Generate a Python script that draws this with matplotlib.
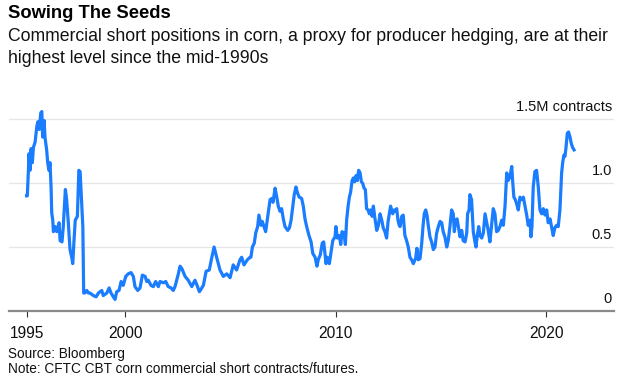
import matplotlib
matplotlib.use('Agg')
import matplotlib.pyplot as plt
import matplotlib.transforms as mtransforms

# weekly-ish readings, decimal year -> million contracts
dates = [
    1995.31, 1995.34, 1995.39, 1995.42, 1995.47, 1995.52, 1995.58, 1995.63, 1995.71, 1995.79,
    1995.84, 1995.91, 1995.98, 1996.03, 1996.07, 1996.14, 1996.18, 1996.26, 1996.31, 1996.37,
    1996.42, 1996.47, 1996.50, 1996.55, 1996.58, 1996.66, 1996.74, 1996.85, 1996.90, 1996.99,
    1997.05, 1997.15, 1997.21, 1997.29, 1997.37, 1997.45, 1997.50, 1997.56, 1997.62, 1997.72,
    1997.79, 1997.85, 1997.91, 1997.98, 1998.00, 1998.02, 1998.07, 1998.17, 1998.24, 1998.32,
    1998.48, 1998.61, 1998.72,
    1998.88, 1998.95, 1999.12, 1999.23, 1999.32, 1999.43, 1999.51, 1999.59, 1999.70, 1999.80,
    1999.90, 2000.02, 2000.14, 2000.27, 2000.38, 2000.46, 2000.59, 2000.70, 2000.81, 2000.94,
    2001.02, 2001.09, 2001.22, 2001.33, 2001.44, 2001.57, 2001.65, 2001.81, 2001.92, 2002.04,
    2002.17, 2002.28, 2002.36,
    2002.41, 2002.52, 2002.60, 2002.69, 2002.84, 2002.99, 2003.16, 2003.31, 2003.41, 2003.52,
    2003.60, 2003.71, 2003.84, 2003.99, 2004.10, 2004.22, 2004.34, 2004.50, 2004.66, 2004.82,
    2004.98, 2005.13, 2005.29, 2005.45, 2005.53, 2005.64, 2005.80, 2005.93,
    2005.97, 2006.04, 2006.13, 2006.20, 2006.29, 2006.35, 2006.45, 2006.51, 2006.61, 2006.67,
    2006.77, 2006.88, 2006.96, 2007.02, 2007.12, 2007.20, 2007.27, 2007.35, 2007.43, 2007.51,
    2007.59, 2007.72, 2007.80, 2007.88, 2007.96, 2008.03, 2008.11, 2008.19, 2008.27, 2008.38,
    2008.46, 2008.54, 2008.62, 2008.73, 2008.83, 2008.91, 2009.02, 2009.11, 2009.17, 2009.27,
    2009.36, 2009.43, 2009.49,
    2009.54, 2009.60, 2009.70, 2009.78, 2009.86, 2009.97, 2010.01, 2010.08, 2010.17, 2010.24,
    2010.30, 2010.39, 2010.46, 2010.52, 2010.59, 2010.65, 2010.71, 2010.78, 2010.84, 2010.90,
    2010.97, 2011.03, 2011.09, 2011.16, 2011.22, 2011.28, 2011.35, 2011.41, 2011.47, 2011.54,
    2011.60, 2011.66, 2011.73, 2011.79, 2011.87, 2011.95, 2012.03, 2012.11, 2012.19, 2012.26,
    2012.34, 2012.42, 2012.49, 2012.55, 2012.61, 2012.71, 2012.77, 2012.83, 2012.90, 2012.96,
    2013.02,
    2013.06, 2013.14, 2013.21, 2013.29, 2013.37, 2013.45, 2013.53, 2013.61, 2013.69, 2013.80,
    2013.86, 2013.93, 2014.01, 2014.09, 2014.15, 2014.21, 2014.28, 2014.34, 2014.40, 2014.48,
    2014.56, 2014.64, 2014.72, 2014.80, 2014.88, 2014.96, 2015.04, 2015.11, 2015.19, 2015.28,
    2015.35, 2015.43, 2015.51, 2015.59, 2015.64, 2015.70, 2015.77, 2015.83, 2015.91, 2015.99,
    2016.06, 2016.15, 2016.23, 2016.27, 2016.34, 2016.38, 2016.46, 2016.54, 2016.62,
    2016.67, 2016.73, 2016.80, 2016.86, 2016.94, 2017.02, 2017.10, 2017.18, 2017.25, 2017.33,
    2017.41, 2017.49, 2017.57, 2017.65, 2017.73, 2017.81, 2017.89, 2017.97, 2018.05, 2018.13,
    2018.20, 2018.28, 2018.37, 2018.41, 2018.47, 2018.54, 2018.60, 2018.68, 2018.76, 2018.84,
    2018.92, 2019.00, 2019.08, 2019.15, 2019.24, 2019.28, 2019.33, 2019.39, 2019.47, 2019.55,
    2019.63, 2019.71, 2019.79, 2019.87, 2019.95, 2020.03, 2020.10, 2020.19, 2020.27, 2020.34,
    2020.42, 2020.50, 2020.58, 2020.66, 2020.74, 2020.79, 2020.85, 2020.90, 2020.95, 2021.01,
    2021.07, 2021.14, 2021.20, 2021.26, 2021.33,
]
contracts = [
    0.90, 0.90, 1.09, 1.23, 1.10, 1.27, 1.16, 1.28, 1.32, 1.44,
    1.48, 1.42, 1.55, 1.56, 1.36, 1.49, 1.36, 1.26, 1.16, 1.10,
    1.16, 0.97, 0.77, 0.71, 0.62, 0.66, 0.62, 0.69, 0.55, 0.54,
    0.66, 0.95, 0.87, 0.69, 0.48, 0.42, 0.37, 0.55, 0.71, 0.74,
    1.10, 1.09, 0.89, 0.66, 0.42, 0.14, 0.14, 0.16, 0.14, 0.14,
    0.12, 0.11, 0.14,
    0.16, 0.12, 0.14, 0.18, 0.14, 0.11, 0.09, 0.15, 0.16, 0.23,
    0.20, 0.27, 0.29, 0.30, 0.27, 0.19, 0.16, 0.18, 0.28, 0.27,
    0.23, 0.24, 0.20, 0.19, 0.23, 0.19, 0.23, 0.22, 0.23, 0.19,
    0.18, 0.16, 0.19,
    0.22, 0.29, 0.35, 0.33, 0.27, 0.24, 0.19, 0.24, 0.20, 0.15,
    0.17, 0.20, 0.31, 0.32, 0.41, 0.50, 0.42, 0.32, 0.27, 0.29,
    0.26, 0.36, 0.32, 0.40, 0.42, 0.36, 0.40, 0.42,
    0.42, 0.50, 0.53, 0.61, 0.66, 0.75, 0.67, 0.70, 0.65, 0.62,
    0.74, 0.87, 0.88, 0.85, 0.96, 0.89, 0.82, 0.78, 0.80, 0.72,
    0.66, 0.63, 0.65, 0.71, 0.82, 0.91, 0.97, 0.92, 0.89, 0.88,
    0.82, 0.72, 0.66, 0.59, 0.54, 0.45, 0.42, 0.35, 0.40, 0.44,
    0.53, 0.54, 0.45,
    0.37, 0.42, 0.37, 0.46, 0.55, 0.58, 0.66, 0.57, 0.59, 0.52,
    0.62, 0.61, 0.52, 0.71, 0.82, 0.89, 0.93, 1.02, 1.04, 1.01,
    1.06, 1.02, 1.10, 1.08, 1.01, 1.00, 0.96, 0.95, 0.80, 0.79,
    0.76, 0.79, 0.74, 0.82, 0.72, 0.63, 0.67, 0.76, 0.71, 0.65,
    0.62, 0.57, 0.70, 0.76, 0.82, 0.76, 0.79, 0.78, 0.80, 0.71,
    0.67,
    0.66, 0.74, 0.75, 0.59, 0.55, 0.50, 0.42, 0.40, 0.37, 0.41,
    0.49, 0.40, 0.41, 0.53, 0.66, 0.76, 0.79, 0.75, 0.67, 0.58,
    0.54, 0.48, 0.50, 0.61, 0.66, 0.70, 0.69, 0.62, 0.58, 0.50,
    0.55, 0.66, 0.79, 0.76, 0.62, 0.71, 0.72, 0.66, 0.58, 0.63,
    0.55, 0.54, 0.61, 0.76, 0.79, 0.91, 0.87, 0.62, 0.54,
    0.50, 0.59, 0.66, 0.59, 0.57, 0.61, 0.76, 0.69, 0.63, 0.54,
    0.67, 0.80, 0.76, 0.62, 0.63, 0.66, 0.71, 0.67, 0.82, 1.08,
    1.02, 1.05, 1.13, 1.02, 0.89, 0.87, 0.84, 0.79, 0.89, 0.87,
    0.89, 0.82, 0.75, 0.67, 0.71, 0.58, 0.66, 0.97, 1.09, 1.10,
    0.97, 0.79, 0.76, 0.80, 0.75, 0.79, 0.69, 0.72, 0.65, 0.59,
    0.65, 0.67, 0.66, 0.79, 1.08, 1.16, 1.22, 1.21, 1.28, 1.39,
    1.40, 1.36, 1.31, 1.28, 1.26,
]

xtick_pos = [1995.31, 2000, 2010, 2020]
xtick_labels = ['1995', '2000', '2010', '2020']
ytick_pos = [0, 0.5, 1.0, 1.5]
ytick_labels = ['0', '0.5', '1.0', '1.5M contracts']

plt.rcParams['font.family'] = ['Liberation Sans', 'DejaVu Sans']

W, H = 623, 382
fig = plt.figure(figsize=(W / 100, H / 100), dpi=100)
ax = fig.add_axes([9 / W, (H - 310.9) / H, 605 / W, 207 / H])

ax.plot(dates, contracts, color='#1a7cff', lw=2.3, solid_joinstyle='round', zorder=3)
ax.set_xlim(1994.47, 2023.23)
ax.set_ylim(0, 1.62)

# gridlines and right-side labels sitting just above them
trans = mtransforms.blended_transform_factory(ax.transAxes, ax.transData)
for y, lab in zip(ytick_pos, ytick_labels):
    if y > 0:
        ax.axhline(y, color='#e6e6e6', lw=0.9, zorder=1)
    ax.text(0.9965, y + 0.065, lab, transform=trans, ha='right', va='baseline',
            fontsize=10.5, color='#111111')

ax.set_yticks([])
for s in ['top', 'right', 'left']:
    ax.spines[s].set_visible(False)
ax.spines['bottom'].set_color('#8a8a8a')
ax.spines['bottom'].set_linewidth(1.6)
ax.spines['bottom'].set_zorder(4)

ax.set_xticks(xtick_pos)
ax.set_xticklabels(xtick_labels, fontsize=11.2, color='#111111')
ax.tick_params(axis='x', direction='out', length=4.5, width=0.8, color='#333333', pad=6.5)

fig.text(8 / W, 1 - 18 / H, 'Sowing The Seeds', fontsize=13.2, fontweight='bold',
         va='baseline', color='#000000')
fig.text(8 / W, 1 - 41 / H,
         'Commercial short positions in corn, a proxy for producer hedging, are at their',
         fontsize=12.7, va='baseline', color='#111111')
fig.text(8 / W, 1 - 63 / H, 'highest level since the mid-1990s',
         fontsize=12.7, va='baseline', color='#111111')

fig.text(8 / W, 1 - 358 / H, 'Source: Bloomberg', fontsize=9.8, va='baseline', color='#111111')
fig.text(8 / W, 1 - 373 / H, 'Note: CFTC CBT corn commercial short contracts/futures.',
         fontsize=9.8, va='baseline', color='#111111')

fig.savefig('out.png', dpi=100)
